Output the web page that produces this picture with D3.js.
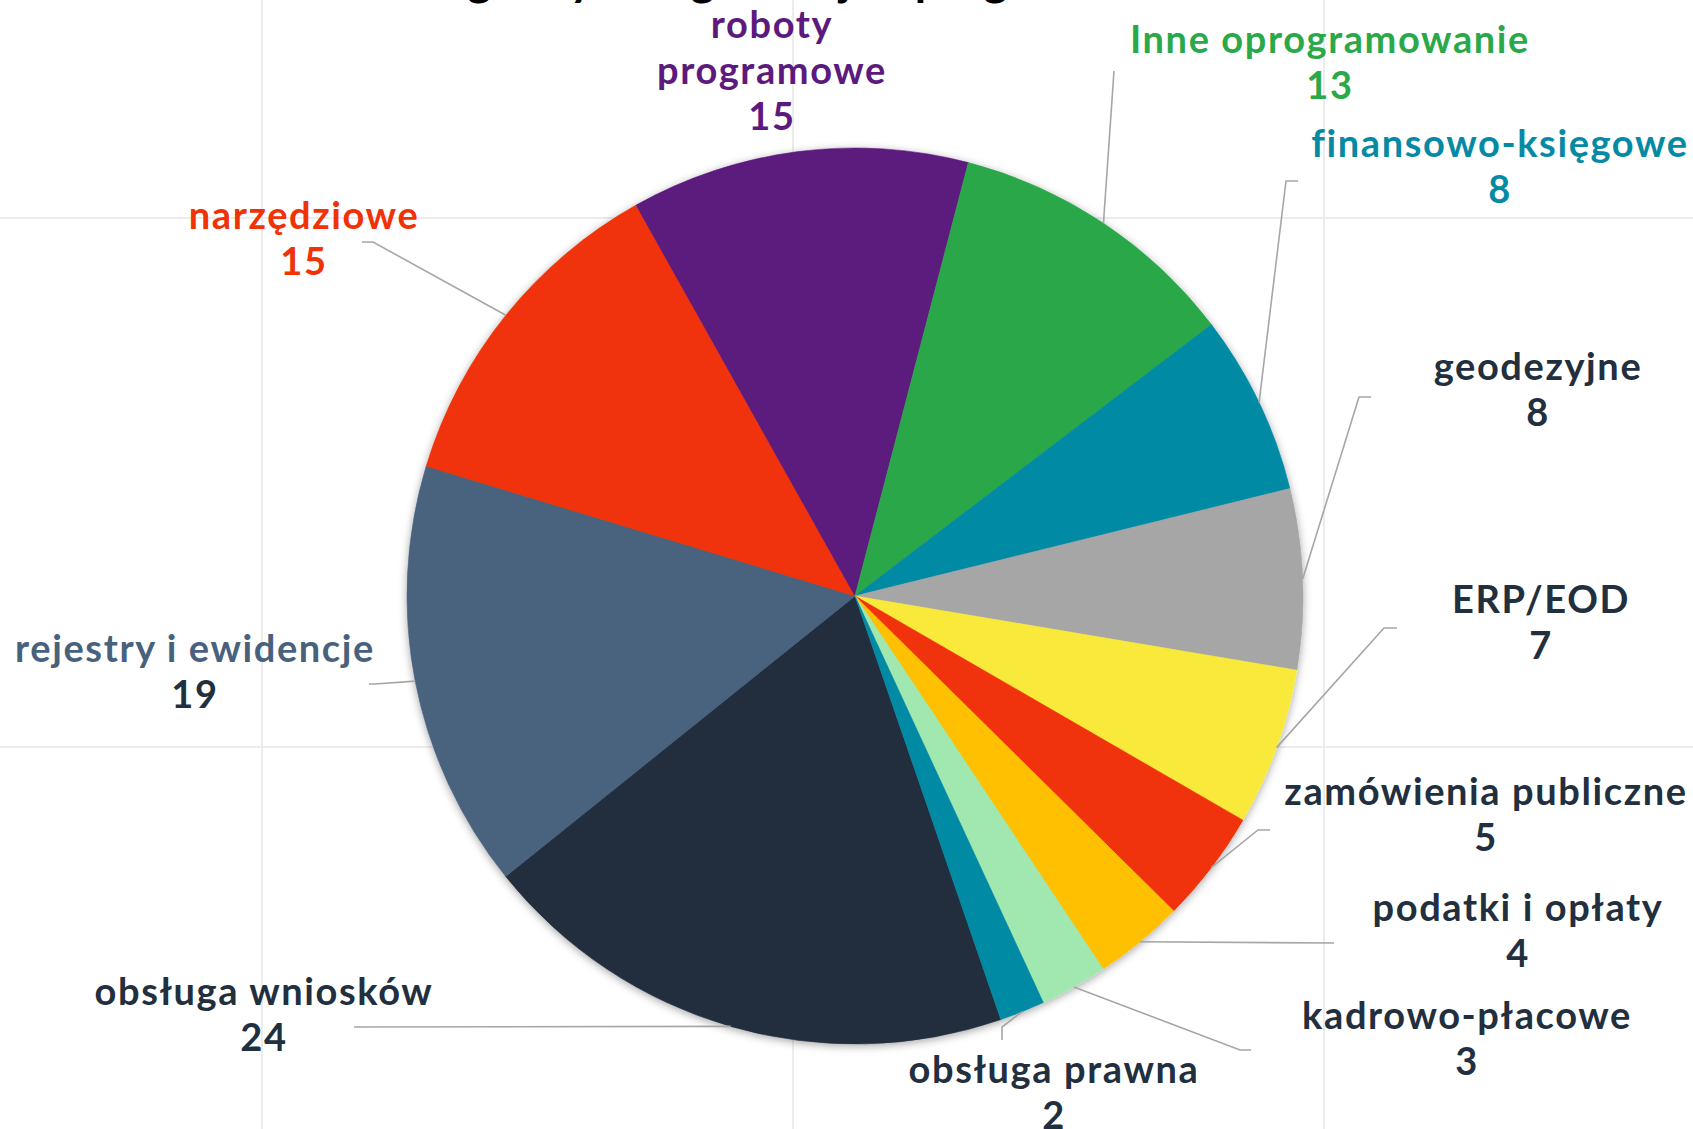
<!DOCTYPE html>
<html>
<head>
<meta charset="utf-8">
<script src="https://cdn.jsdelivr.net/npm/d3@7"></script>
<style>
  body { margin: 0; background: #fff; }
  svg { display: block; font-family: Lato, "Noto Sans", sans-serif; }
  .lbl { font-weight: 700; font-size: 38px; letter-spacing: 1.6px; }
</style>
</head>
<body>
<div id="chart"></div>
<script>
// slice data, clockwise from the first slice
var categories = ['obsługa wniosków', 'rejestry i ewidencje', 'narzędziowe', 'roboty programowe',
  'Inne oprogramowanie', 'finansowo-księgowe', 'geodezyjne', 'ERP/EOD',
  'zamówienia publiczne', 'podatki i opłaty', 'kadrowo-płacowe', 'obsługa prawna'];
var values = [24, 19, 15, 15, 13, 8, 8, 7, 5, 4, 3, 2];
var sliceColors = ['#222f3e', '#48627e', '#f03207', '#5c1a7e', '#2ba84a', '#068aa4',
  '#a6a6a6', '#f9e93b', '#f03207', '#fec000', '#a0e8b0', '#068aa4'];
var nameColors = ['#222f3e', '#48627e', '#f03207', '#5c1a7e', '#2ba84a', '#068aa4',
  '#222f3e', '#222f3e', '#222f3e', '#222f3e', '#222f3e', '#222f3e'];
var valueColors = ['#222f3e', '#222f3e', '#f03207', '#5c1a7e', '#2ba84a', '#068aa4',
  '#222f3e', '#222f3e', '#222f3e', '#222f3e', '#222f3e', '#222f3e'];

var W = 1693, H = 1129,
    cx = 855, cy = 596, radius = 448,
    firstAngle = 161;  // degrees, like excel "angle of first slice"

// label placement: text centre, first baseline, line breaks, leader start/elbow
var labelLayout = [
  { x: 264,  y: 1005, lines: ['obsługa wniosków'],        leader: [[354, 1027]] },
  { x: 195,  y: 662,  lines: ['rejestry i ewidencje'],    leader: [[369, 684], [375, 684]] },
  { x: 304,  y: 229,  lines: ['narzędziowe'],             leader: [[362, 242], [373, 242]] },
  { x: 772,  y: 38,   lines: ['roboty', 'programowe'],    leader: null },
  { x: 1330, y: 53,   lines: ['Inne oprogramowanie'],     leader: [[1114, 71]] },
  { x: 1500, y: 157,  lines: ['finansowo-księgowe'],      leader: [[1298, 181], [1286, 181]] },
  { x: 1538, y: 380,  lines: ['geodezyjne'],              leader: [[1371, 397], [1359, 397]] },
  { x: 1541, y: 613,  lines: ['ERP/EOD'],                 leader: [[1397, 628], [1384, 628]] },
  { x: 1486, y: 805,  lines: ['zamówienia publiczne'],    leader: [[1270, 830], [1258, 830]] },
  { x: 1518, y: 921,  lines: ['podatki i opłaty'],        leader: [[1334, 943]] },
  { x: 1467, y: 1029, lines: ['kadrowo-płacowe'],         leader: [[1251, 1050], [1240, 1050]] },
  { x: 1054, y: 1083, lines: ['obsługa prawna'],          leader: [[1002, 1040], [1002, 1027]] }
];
var lineH = 46;

var svg = d3.select('#chart').append('svg')
  .attr('width', W)
  .attr('height', H);

svg.append('rect').attr('width', W).attr('height', H).attr('fill', '#fff');

// faint slide grid behind the chart
var gridX = [262, 793, 1324], gridY = [218, 747];
svg.append('g').selectAll('line.gx').data(gridX).enter().append('line')
  .attr('x1', function (d) { return d; }).attr('x2', function (d) { return d; })
  .attr('y1', 0).attr('y2', H)
  .style('stroke', '#ececec').style('stroke-width', 2);
svg.append('g').selectAll('line.gy').data(gridY).enter().append('line')
  .attr('y1', function (d) { return d; }).attr('y2', function (d) { return d; })
  .attr('x1', 0).attr('x2', W)
  .style('stroke', '#ececec').style('stroke-width', 2);

// title, mostly cut off by the top edge
svg.append('text')
  .attr('x', 815).attr('y', -5)
  .attr('text-anchor', 'middle')
  .style('font-size', '46px').style('font-weight', 700).style('fill', '#000')
  .text('Programy IT wg rodzaju oprogramowania');

var defs = svg.append('defs');
var f = defs.append('filter').attr('id', 'shadow')
  .attr('x', '-10%').attr('y', '-10%').attr('width', '120%').attr('height', '120%');
f.append('feDropShadow')
  .attr('dx', 0).attr('dy', 2).attr('stdDeviation', 4)
  .attr('flood-color', '#000').attr('flood-opacity', 0.35);

var a0 = firstAngle * Math.PI / 180;
var pie = d3.pie().sort(null).value(function (d) { return d; })
  .startAngle(a0).endAngle(a0 + 2 * Math.PI);
var arcs = pie(values);
var arc = d3.arc().innerRadius(0).outerRadius(radius);
var edge = d3.arc().innerRadius(radius).outerRadius(radius);

var g = svg.append('g').attr('transform', 'translate(' + cx + ',' + cy + ')');
g.append('g').attr('filter', 'url(#shadow)')
  .selectAll('path').data(arcs).enter().append('path')
  .attr('d', arc)
  .style('fill', function (d, i) { return sliceColors[i]; })
  .style('stroke', function (d, i) { return sliceColors[i]; })
  .style('stroke-width', 0.6);

// leader lines: label side points then the slice edge at mid angle
svg.append('g').selectAll('path').data(arcs).enter().append('path')
  .filter(function (d, i) { return labelLayout[i].leader; })
  .attr('d', function (d) {
    var i = d.index;
    var c = edge.centroid(d);
    var pts = labelLayout[i].leader.concat([[cx + c[0], cy + c[1]]]);
    return d3.line()(pts);
  })
  .style('fill', 'none')
  .style('stroke', '#a6a6a6')
  .style('stroke-width', 1.6);

// labels
var labels = svg.append('g').selectAll('text').data(arcs).enter().append('text')
  .attr('class', 'lbl')
  .attr('text-anchor', 'middle')
  .attr('x', function (d) { return labelLayout[d.index].x; })
  .attr('y', function (d) { return labelLayout[d.index].y; });

labels.each(function (d) {
  var t = d3.select(this), L = labelLayout[d.index];
  L.lines.forEach(function (s, k) {
    t.append('tspan').attr('x', L.x).attr('dy', k ? lineH : 0)
      .style('fill', nameColors[d.index]).text(s);
  });
  t.append('tspan').attr('x', L.x).attr('dy', lineH)
    .style('fill', valueColors[d.index]).text(values[d.index]);
});
</script>
</body>
</html>
